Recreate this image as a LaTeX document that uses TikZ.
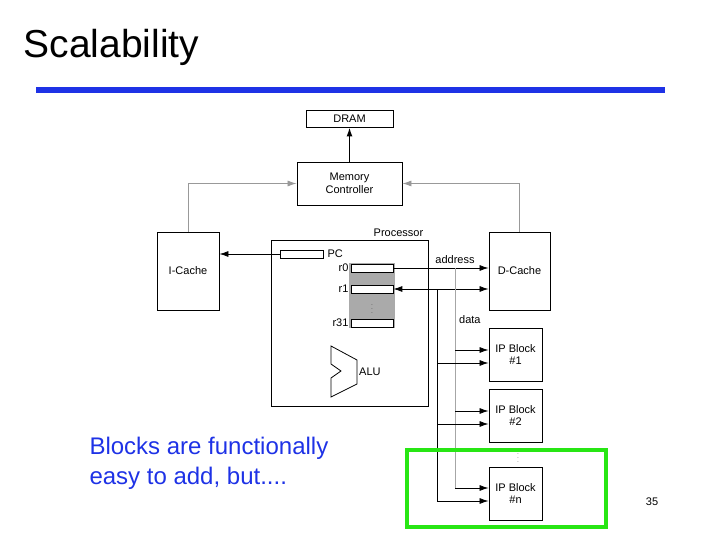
\documentclass[tikz,border=0pt]{standalone}
\usepackage{fontspec}
\setmainfont{Liberation Sans}
\usetikzlibrary{positioning}
\usetikzlibrary{arrows.meta}

\definecolor{barblue}{RGB}{30,50,230}
\definecolor{hilite}{RGB}{40,230,20}
\definecolor{regfill}{RGB}{170,170,170}

\tikzset{
  unit/.style={draw, line width=0.9pt, font=\fontsize{11}{12.5}\selectfont, align=center, inner sep=0pt},
  reg/.style={draw, fill=white, line width=0.7pt, minimum width=42pt, minimum height=8pt, inner sep=0pt},
  lbl/.style={font=\fontsize{11}{12}\selectfont, inner sep=1pt},
  bus/.style={-{Latex[length=9pt,width=6pt]}, line width=0.8pt},
  grey bus/.style={line width=0.8pt, draw=gray!70},
  vdots/.style={font=\tiny, inner sep=0pt},
}

\begin{document}
\begin{tikzpicture}[x=1pt, y=-1pt]
        \useasboundingbox (0,0) rectangle (720,540);
        %% Title and bar.
        \node[anchor=west, font=\fontsize{39}{42}\selectfont] (title) at (20,47) {Scalability};
        \fill[barblue] (36,87) rectangle (665,93);
        %% Boxes.
        \node[unit, minimum width=87pt, minimum height=17pt] (dram) at (349.5,118.5) {DRAM};
        \node[unit, minimum width=105pt, minimum height=43pt] (mc) at (349.5,183.5) {Memory\\Controller};
        \node[unit, minimum width=62pt, minimum height=78pt] (icache) at (188,271) {I-Cache};
        \node[unit, minimum width=61pt, minimum height=78pt] (dcache) at (519.5,271) {D-Cache};
        \node[unit, minimum width=157pt, minimum height=166pt] (proc) at (349.5,323) {};
        \node[lbl, above left=2pt and 4pt of proc.north east] (proclbl) {Processor};
        \fill[regfill] (349,263) rectangle (395,328);
        \node[reg, minimum width=43pt] (pc) at (301.5,254) {};
        \node[lbl, right=3pt of pc] (pclbl) {PC};
        \node[reg] (r0) at (372,268) {};
        \node[reg] (r1) at (372,289) {};
        \node[reg] (r31) at (372,323) {};
        \node[lbl, left=1pt of r0] (r0lbl) {r0};
        \node[lbl, left=1pt of r1] (r1lbl) {r1};
        \node[lbl, left=1pt of r31] (r31lbl) {r31};
        \node[vdots] (rdots) at (372,306) {$\vdots$};
        \draw[line width=0.8pt] (331,346) -- (357,360) -- (357,384) -- (331,397) -- (331,378) -- (341,371) -- (331,364) -- cycle;
        \node[lbl, anchor=west] (alu) at (358,372) {ALU};
        \node[unit, minimum width=53pt, minimum height=53pt] (ip1) at (515.5,354.5) {IP Block\\\#1};
        \node[unit, minimum width=53pt, minimum height=53pt] (ip2) at (515.5,415.5) {IP Block\\\#2};
        \node[unit, minimum width=53pt, minimum height=53pt] (ipn) at (515.5,493.5) {IP Block\\\#n};
        \node[vdots] (ipdots) at (518,455) {$\vdots$};
        %% Connectors.
        \draw[bus, line width=1.4pt] (mc.north) -- (dram.south);
        \draw[bus, draw=gray!80] (icache.north) |- (mc.west);
        \draw[bus, draw=gray!80] (dcache.north) |- (mc.east);
        \draw[bus] (pc.west) -- (pc.west -| icache.east);
        \draw[bus] (r0.east) -- (r0.east -| dcache.west);
        \draw[bus, {Latex[length=9pt,width=6pt]}-{Latex[length=9pt,width=6pt]}] (r1.east) -- (r1.east -| dcache.west);
        \node[lbl, anchor=south] (addr) at (455,265) {address};
        \node[lbl, anchor=west] (datalbl) at (458,320) {data};
        \coordinate (atap) at (455,268);
        \coordinate (dtap) at (437,289);
        \draw[grey bus] (atap) -- (455,488);
        \draw[line width=0.8pt] (dtap) -- (437,501);
        \foreach \blk/\ay/\dy in {ip1/350/363, ip2/411/424, ipn/488/501} {
          \draw[bus] (455,\ay) -- (\blk.west |- 0,\ay);
          \draw[bus] (437,\dy) -- (\blk.west |- 0,\dy);
        }
        %% Highlight and notes.
        \draw[hilite, line width=3.5pt] (407,450) rectangle (606,527);
        \node[anchor=north west, align=left, text=barblue, font=\fontsize{24}{30}\selectfont] (note) at (86,434) {Blocks are functionally\\easy to add, but....};
        \node[font=\fontsize{11}{12}\selectfont] (page) at (652,502) {35};
\end{tikzpicture}
\end{document}
